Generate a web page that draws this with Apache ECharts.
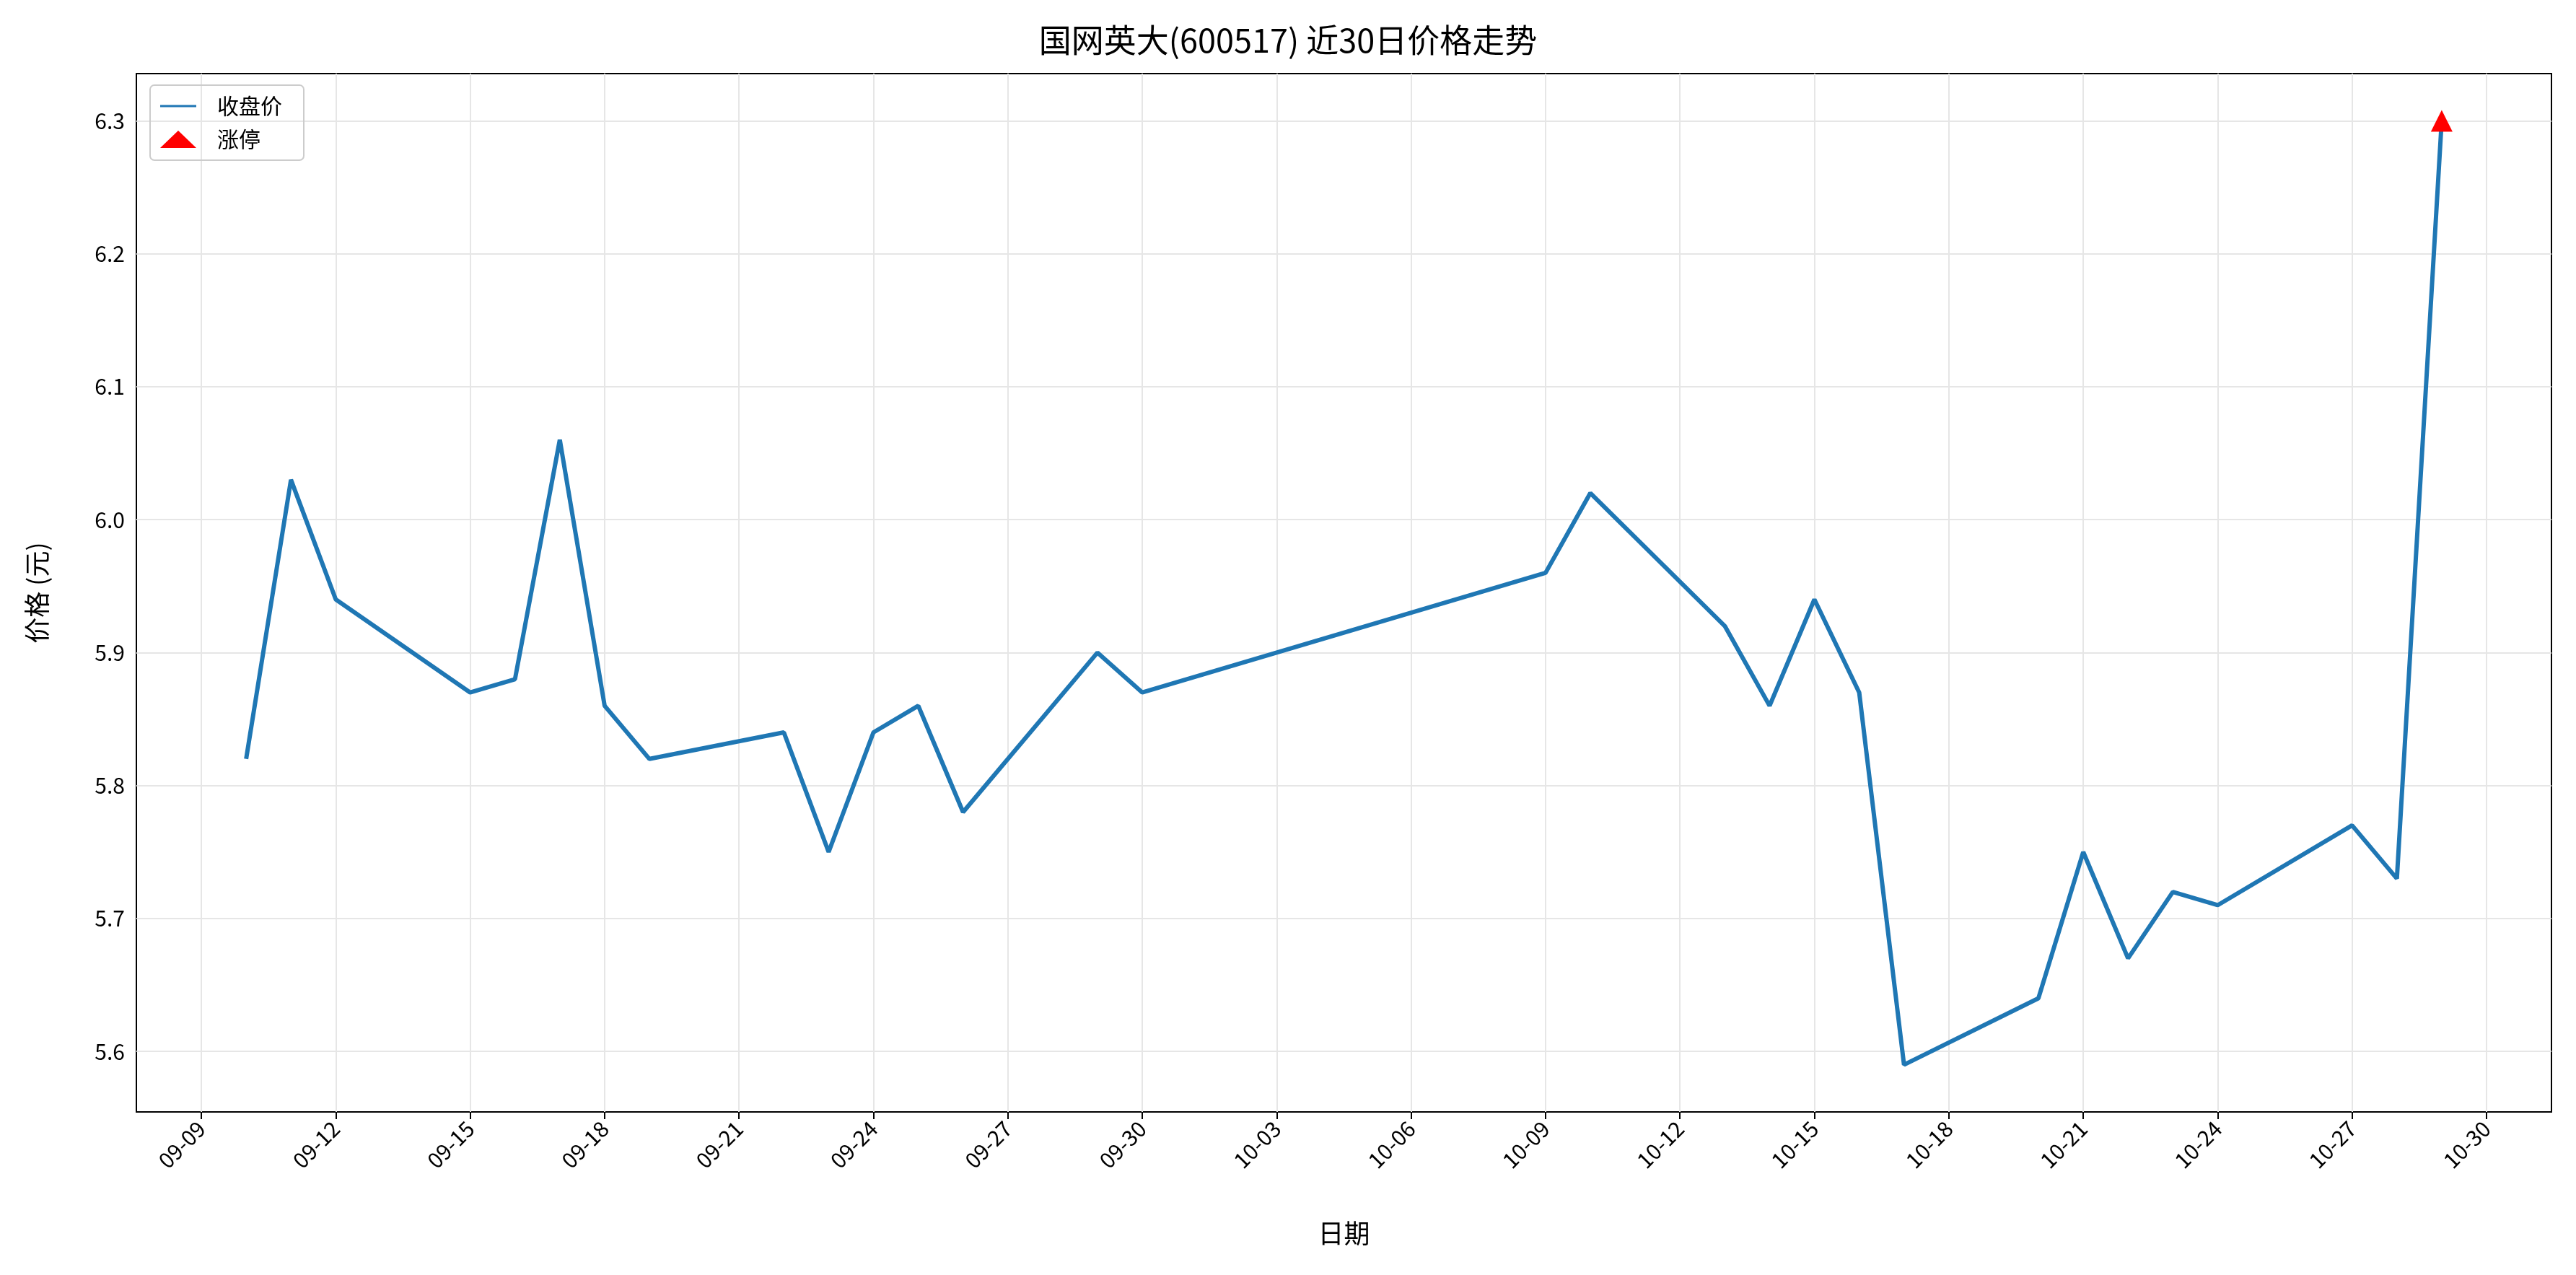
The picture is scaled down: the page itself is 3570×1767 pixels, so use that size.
<!DOCTYPE html>
<html><head><meta charset="utf-8">
<script src="https://cdn.jsdelivr.net/npm/echarts@6/dist/echarts.min.js"></script>
<style>html,body{margin:0;padding:0;background:#fff}#c{width:3570px;height:1767px}</style>
</head><body><div id="c"></div>
<script>
const dates = ['09-10','09-11','09-12','09-15','09-16','09-17','09-18','09-19','09-22','09-23','09-24','09-25','09-26','09-29','09-30','10-09','10-10','10-13','10-14','10-15','10-16','10-17','10-20','10-21','10-22','10-23','10-24','10-27','10-28','10-29'];
const closes = [5.82,6.03,5.94,5.87,5.88,6.06,5.86,5.82,5.84,5.75,5.84,5.86,5.78,5.90,5.87,5.96,6.02,5.92,5.86,5.94,5.87,5.59,5.64,5.75,5.67,5.72,5.71,5.77,5.73,6.30];
const limitUpDates = ['10-29'];
const limitUpValues = [6.30];
const xTickLabels = ['09-09','09-12','09-15','09-18','09-21','09-24','09-27','09-30','10-03','10-06','10-09','10-12','10-15','10-18','10-21','10-24','10-27','10-30'];
const yTicks = [5.6,5.7,5.8,5.9,6.0,6.1,6.2,6.3];

const base = Date.UTC(2025,8,9);
const day = s => (Date.UTC(2025, +s.slice(0,2)-1, +s.slice(3)) - base)/86400000;
const lab = v => { const d=new Date(base+v*86400000); return String(d.getUTCMonth()+1).padStart(2,'0')+'-'+String(d.getUTCDate()).padStart(2,'0'); };
const xTicks = xTickLabels.map(day);
const xs = dates.map(day);
const xmin = xs[0]-(xs[xs.length-1]-xs[0])*0.05, xmax = xs[xs.length-1]+(xs[xs.length-1]-xs[0])*0.05;
const ylo = Math.min(...closes), yhi = Math.max(...closes);
const ymin = ylo-(yhi-ylo)*0.05, ymax = yhi+(yhi-ylo)*0.05;
const font = '"Noto Sans CJK SC", "DejaVu Sans", sans-serif';
const gridStyle = {color:'#e6e6e6', width:2, type:'solid'};
const ch = echarts.init(document.getElementById('c'));
ch.setOption({
  animation:false,
  textStyle:{fontFamily:font},
  title:{text:'国网英大(600517) 近30日价格走势', left:'center', top:28, textStyle:{fontSize:45, fontWeight:'normal', color:'#000', fontFamily:font}},
  grid:{left:189, right:34, top:102, bottom:226, show:true, borderColor:'#000', borderWidth:2, backgroundColor:'transparent'},
  legend:{left:208, top:118, orient:'vertical', itemGap:16, itemWidth:50, itemHeight:24, padding:[14,30,14,14], borderColor:'#cccccc', borderWidth:2, borderRadius:6, textStyle:{fontSize:30, color:'#000', fontFamily:font, padding:[0,0,0,24]},
    data:[{name:'收盘价', icon:'path://M0,11 L50,11 L50,14 L0,14 Z', itemStyle:{color:'#1f77b4'}}, {name:'涨停', icon:'triangle'}]},
  xAxis:{type:'value', min:xmin, max:xmax, name:'日期', nameLocation:'middle', nameGap:150, nameTextStyle:{fontSize:36, color:'#000', fontFamily:font},
    axisLine:{onZero:false, lineStyle:{color:'#000', width:2}}, splitLine:{show:false},
    axisTick:{customValues:xTicks, length:10, lineStyle:{color:'#000', width:2}},
    axisLabel:{customValues:xTicks, formatter:lab, rotate:45, fontSize:30, color:'#000', margin:18, fontFamily:font}},
  yAxis:{type:'value', min:ymin, max:ymax, name:'价格 (元)', nameLocation:'middle', nameGap:120, nameTextStyle:{fontSize:36, color:'#000', fontFamily:font},
    axisLine:{show:true, lineStyle:{color:'#000', width:2}}, splitLine:{show:false},
    axisTick:{show:true, customValues:yTicks, length:10, lineStyle:{color:'#000', width:2}},
    axisLabel:{customValues:yTicks, formatter:v=>v.toFixed(1), fontSize:30, color:'#000', margin:16, fontFamily:font}},
  series:[
    {name:'收盘价', type:'line', data:xs.map((x,i)=>[x,closes[i]]), symbol:'none', lineStyle:{color:'#1f77b4', width:6}, itemStyle:{color:'#1f77b4'}, z:3,
     markLine:{silent:true, symbol:'none', label:{show:false}, lineStyle:gridStyle, z:1,
       data:[...xTicks.filter(v=>v>xmin&&v<xmax).map(v=>({xAxis:v})), ...yTicks.map(v=>({yAxis:v}))]}},
    {name:'涨停', type:'scatter', data:limitUpDates.map((d,i)=>[day(d),limitUpValues[i]]), symbol:'triangle', symbolSize:30, itemStyle:{color:'#ff0000', opacity:1}, z:4}
  ]
});
</script></body></html>
